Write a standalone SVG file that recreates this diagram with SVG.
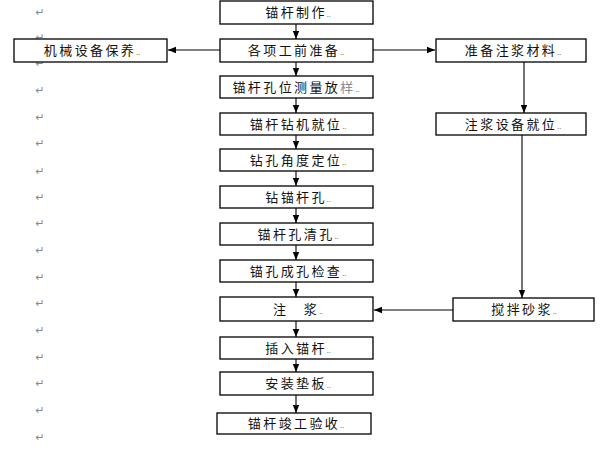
<svg xmlns="http://www.w3.org/2000/svg" width="600" height="450" viewBox="0 0 600 450">
<style>
.box{fill:#fff;stroke:#000;stroke-width:1.3}
.t{font-family:"Noto Sans CJK SC","Noto Sans CJK JP",sans-serif;font-size:13px;letter-spacing:2.4px;fill:#111;text-anchor:middle}
.d{font-size:7px;letter-spacing:0;fill:#666}
.rm{font-family:"DejaVu Sans",sans-serif;font-size:11px;fill:#8a8a8a;text-anchor:middle}
.c{fill:none;stroke:#000;stroke-width:1.1}
</style>
<defs>
<marker id="ah" markerUnits="userSpaceOnUse" markerWidth="8" markerHeight="8" viewBox="0 0 8 8" refX="8" refY="4" orient="auto">
<path d="M0,0.8 L8,4 L0,7.2 Z" fill="#000"/>
</marker>
</defs>
<rect width="600" height="450" fill="#fff"/>
<g id="marks">
<text class="rm" x="40" y="16">↵</text>
<text class="rm" x="40" y="41">↵</text>
<text class="rm" x="40" y="67">↵</text>
<text class="rm" x="40" y="94">↵</text>
<text class="rm" x="40" y="121">↵</text>
<text class="rm" x="40" y="147">↵</text>
<text class="rm" x="40" y="175">↵</text>
<text class="rm" x="40" y="201">↵</text>
<text class="rm" x="40" y="227">↵</text>
<text class="rm" x="40" y="254">↵</text>
<text class="rm" x="40" y="281">↵</text>
<text class="rm" x="40" y="307">↵</text>
<text class="rm" x="40" y="334">↵</text>
<text class="rm" x="40" y="361">↵</text>
<text class="rm" x="40" y="387">↵</text>
<text class="rm" x="40" y="414">↵</text>
<text class="rm" x="40" y="441">↵</text>
</g>
<g id="connectors">
<line class="c" x1="296" y1="24" x2="296" y2="39" marker-end="url(#ah)"/>
<line class="c" x1="296" y1="62" x2="296" y2="76" marker-end="url(#ah)"/>
<line class="c" x1="296" y1="98" x2="296" y2="113" marker-end="url(#ah)"/>
<line class="c" x1="296" y1="135" x2="296" y2="149" marker-end="url(#ah)"/>
<line class="c" x1="296" y1="171" x2="296" y2="186" marker-end="url(#ah)"/>
<line class="c" x1="296" y1="208" x2="296" y2="223" marker-end="url(#ah)"/>
<line class="c" x1="296" y1="245" x2="296" y2="260" marker-end="url(#ah)"/>
<line class="c" x1="296" y1="282" x2="296" y2="297" marker-end="url(#ah)"/>
<line class="c" x1="296" y1="321" x2="296" y2="337" marker-end="url(#ah)"/>
<line class="c" x1="296" y1="359" x2="296" y2="372" marker-end="url(#ah)"/>
<line class="c" x1="296" y1="395" x2="296" y2="413" marker-end="url(#ah)"/>
<line class="c" x1="220" y1="50" x2="168" y2="50" marker-end="url(#ah)"/>
<line class="c" x1="373" y1="50" x2="435" y2="50" marker-end="url(#ah)"/>
<line class="c" x1="524" y1="62" x2="524" y2="113" marker-end="url(#ah)"/>
<line class="c" x1="522" y1="135" x2="522" y2="298" marker-end="url(#ah)"/>
<line class="c" x1="453" y1="310" x2="374" y2="310" marker-end="url(#ah)"/>
</g>
<g id="n1"><rect class="box" x="220" y="1" width="153" height="23"/><text class="t" x="298" y="17">锚杆制作<tspan class="d">..</tspan></text></g>
<g id="n2"><rect class="box" x="220" y="39" width="153" height="23"/><text class="t" x="296" y="55">各项工前准备<tspan class="d">..</tspan></text></g>
<g id="n3"><rect class="box" x="220" y="76" width="153" height="22"/><text class="t" x="296" y="92">锚杆孔位测量放<tspan fill="#8a8a9a">样</tspan><tspan class="d">..</tspan></text></g>
<g id="n4"><rect class="box" x="220" y="113" width="153" height="22"/><text class="t" x="298" y="129">锚杆钻机就位<tspan class="d">..</tspan></text></g>
<g id="n5"><rect class="box" x="220" y="149" width="153" height="22"/><text class="t" x="298" y="165">钻孔角度定位<tspan class="d">..</tspan></text></g>
<g id="n6"><rect class="box" x="220" y="186" width="153" height="22"/><text class="t" x="298" y="202">钻锚杆孔<tspan class="d">..</tspan></text></g>
<g id="n7"><rect class="box" x="220" y="223" width="153" height="22"/><text class="t" x="298" y="239">锚杆孔清孔<tspan class="d">..</tspan></text></g>
<g id="n8"><rect class="box" x="220" y="260" width="153" height="22"/><text class="t" x="298" y="276">锚孔成孔检查<tspan class="d">..</tspan></text></g>
<g id="n9"><rect class="box" x="220" y="297" width="153" height="24"/><text class="t" x="298" y="314">注　浆<tspan class="d">..</tspan></text></g>
<g id="n10"><rect class="box" x="220" y="337" width="153" height="22"/><text class="t" x="298" y="353">插入锚杆<tspan class="d">..</tspan></text></g>
<g id="n11"><rect class="box" x="220" y="372" width="153" height="23"/><text class="t" x="298" y="388">安装垫板<tspan class="d">..</tspan></text></g>
<g id="n12"><rect class="box" x="217" y="413" width="154" height="21"/><text class="t" x="296" y="428">锚杆竣工验收<tspan class="d">..</tspan></text></g>
<g id="n13"><rect class="box" x="14" y="39" width="153" height="23"/><text class="t" x="92" y="55">机械设备保养<tspan class="d">..</tspan></text></g>
<g id="n14"><rect class="box" x="436" y="39" width="150" height="23"/><text class="t" x="513" y="55">准备注浆材料<tspan class="d">..</tspan></text></g>
<g id="n15"><rect class="box" x="436" y="113" width="150" height="22"/><text class="t" x="513" y="129">注浆设备就位<tspan class="d">..</tspan></text></g>
<g id="n16"><rect class="box" x="453" y="298" width="141" height="23"/><text class="t" x="524" y="314">搅拌砂浆<tspan class="d">..</tspan></text></g>
</svg>
